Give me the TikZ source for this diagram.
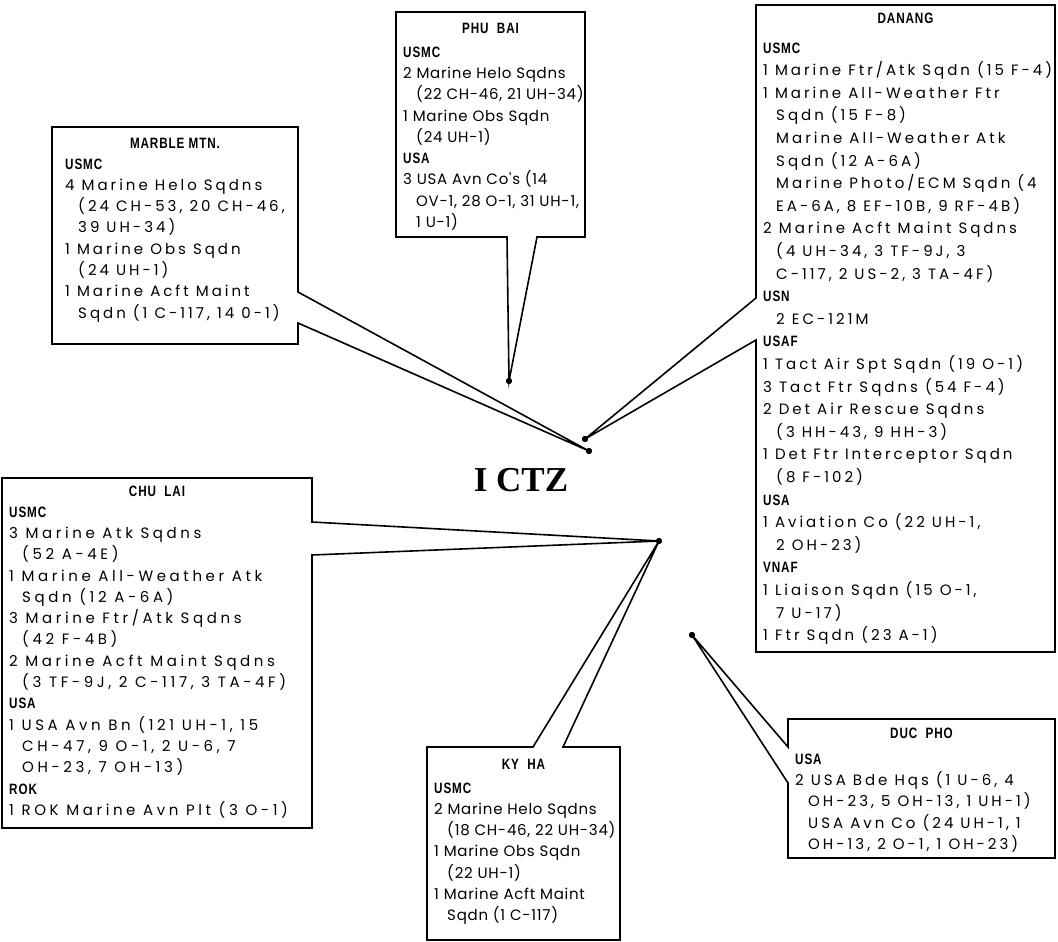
\documentclass[tikz,border=0pt]{standalone}
\usepackage{fontspec}
\setmainfont{Poppins}[LetterSpace=20]
\newfontfamily\tightfont{Poppins}[LetterSpace=5]
\newfontfamily\widefont{Poppins}[LetterSpace=24]
\newfontfamily\headfont{Liberation Sans}[FakeStretch=0.78,LetterSpace=6]
\newfontfamily\ctzfont{Liberation Serif}
\usetikzlibrary{positioning}
\newlength\contwd
\setlength\contwd{13pt}
\newcommand\svc[1]{{\headfont\bfseries #1}}
\newcommand\cont{\hspace*{\contwd}}
\tikzset{
  frame/.style={anchor=north west,inner sep=0pt,outer sep=0pt},
  basename/.style={inner sep=0pt,font=\fontsize{15}{18}\selectfont\headfont\bfseries},
  roster/.style={anchor=north west,align=left,inner sep=0pt,xshift=7pt,yshift=-10pt},
  tight/.style={font=\fontsize{15}{21.3}\selectfont\tightfont},
  wide/.style={font=\fontsize{15}{21.3}\selectfont\widefont},
  rim/.style={draw=black,line width=1.6pt,line join=miter},
  tipdot/.style={circle,fill=black,inner sep=0pt,minimum size=6pt}
}
\begin{document}
\begin{tikzpicture}[x=1pt,y=-1pt,font=\fontsize{15}{21.3}\selectfont]
  \useasboundingbox (0,0) rectangle (1058,942);
  % frames of the six air bases
  \node[frame,minimum width=246pt,minimum height=217pt] (marble) at (52,127) {};
  \node[frame,minimum width=189pt,minimum height=225pt] (phubai) at (396,12) {};
  \node[frame,minimum width=299pt,minimum height=647pt] (danang) at (756,5) {};
  \node[frame,minimum width=310pt,minimum height=350pt] (chulai) at (2,478) {};
  \node[frame,minimum width=193pt,minimum height=193pt] (kyha) at (427,747) {};
  \node[frame,minimum width=267pt,minimum height=139pt] (ducpho) at (788,719) {};
  % pointer tips
  \node[tipdot] (mmtip) at (589,451) {};
  \node[tipdot] (pbtip) at (509,381) {};
  \node[tipdot] (dntip) at (585,439) {};
  \node[tipdot] (cltip) at (659,541) {};
  \node[tipdot] (dptip) at (692,635) {};
  \node[font={\ctzfont\bfseries\fontsize{35}{40}\selectfont}] (ictz) at (521,480) {I CTZ};
  % base names
  \node[basename] (marblehead) at ([yshift=-16pt]marble.north) {MARBLE MTN.};
  \node[basename] (phubaihead) at ([yshift=-16pt]phubai.north) {PHU\ \ BAI};
  \node[basename] (dananghead) at ([yshift=-13pt]danang.north) {DANANG};
  \node[basename] (chulaihead) at ([yshift=-13pt]chulai.north) {CHU\ \ LAI};
  \node[basename] (kyhahead) at ([yshift=-17pt]kyha.north) {KY\ \ HA};
  \node[basename] (ducphohead) at ([yshift=-14pt]ducpho.north) {DUC\ \ PHO};
  % units
  \node[roster,xshift=6pt] (marblelist) at (marble.west |- marblehead.south) {\setlength\contwd{21pt}\svc{USMC}\\
    4 Marine Helo Sqdns\\ \cont(24 CH-53, 20 CH-46,\\ \cont39 UH-34)\\
    1 Marine Obs Sqdn\\ \cont(24 UH-1)\\
    1 Marine Acft Maint\\ \cont Sqdn (1 C-117, 14 0-1)};
  \node[roster,tight,yshift=-3pt] (phubailist) at (phubai.west |- phubaihead.south) {\svc{USMC}\\
    2 Marine Helo Sqdns\\ \cont(22 CH-46, 21 UH-34)\\
    1 Marine Obs Sqdn\\ \cont(24 UH-1)\\
    \svc{USA}\\
    3 USA Avn Co's (14\\ \cont OV-1, 28 O-1, 31 UH-1,\\ \cont1 U-1)};
  \node[roster,yshift=-9pt,font=\fontsize{15}{22.6}\selectfont] (dananglist) at (danang.west |- dananghead.south) {\svc{USMC}\\
    1 Marine Ftr/Atk Sqdn (15 F-4)\\
    1 Marine All-Weather Ftr\\ \cont Sqdn (15 F-8)\\
    \cont Marine All-Weather Atk\\ \cont Sqdn (12 A-6A)\\
    \cont Marine Photo/ECM Sqdn (4\\ \cont EA-6A, 8 EF-10B, 9 RF-4B)\\
    2 Marine Acft Maint Sqdns\\ \cont(4 UH-34, 3 TF-9J, 3\\ \cont C-117, 2 US-2, 3 TA-4F)\\
    \svc{USN}\\ \cont2 EC-121M\\
    \svc{USAF}\\
    1 Tact Air Spt Sqdn (19 O-1)\\
    3 Tact Ftr Sqdns (54 F-4)\\
    2 Det Air Rescue Sqdns\\ \cont(3 HH-43, 9 HH-3)\\
    1 Det Ftr Interceptor Sqdn\\ \cont(8 F-102)\\
    \svc{USA}\\
    1 Aviation Co (22 UH-1,\\ \cont2 OH-23)\\
    \svc{VNAF}\\
    1 Liaison Sqdn (15 O-1,\\ \cont7 U-17)\\
    1 Ftr Sqdn (23 A-1)};
  \node[roster,wide] (chulailist) at (chulai.west |- chulaihead.south) {\svc{USMC}\\
    3 Marine Atk Sqdns\\ \cont(52 A-4E)\\
    1 Marine All-Weather Atk\\ \cont Sqdn (12 A-6A)\\
    3 Marine Ftr/Atk Sqdns\\ \cont(42 F-4B)\\
    2 Marine Acft Maint Sqdns\\ \cont(3 TF-9J, 2 C-117, 3 TA-4F)\\
    \svc{USA}\\
    1 USA Avn Bn (121 UH-1, 15\\ \cont CH-47, 9 O-1, 2 U-6, 7\\ \cont OH-23, 7 OH-13)\\
    \svc{ROK}\\
    1 ROK Marine Avn Plt (3 O-1)};
  \node[roster,tight,yshift=-3pt] (kyhalist) at (kyha.west |- kyhahead.south) {\svc{USMC}\\
    2 Marine Helo Sqdns\\ \cont(18 CH-46, 22 UH-34)\\
    1 Marine Obs Sqdn\\ \cont(22 UH-1)\\
    1 Marine Acft Maint\\ \cont Sqdn (1 C-117)};
  \node[roster,yshift=-5pt] (ducpholist) at (ducpho.west |- ducphohead.south) {\svc{USA}\\
    2 USA Bde Hqs (1 U-6, 4\\ \cont OH-23, 5 OH-13, 1 UH-1)\\
    \cont USA Avn Co (24 UH-1, 1\\ \cont OH-13, 2 O-1, 1 OH-23)};
  % outlines with their pointers
  \draw[rim] ([yshift=52pt]marble.south east) -- (marble.north east) -- (marble.north west)
    -- (marble.south west) -- (marble.south east) -- ([yshift=21pt]marble.south east) -- (mmtip.center) -- cycle;
  \draw[rim] ([xshift=141pt]phubai.south west) -- (phubai.south east) -- (phubai.north east)
    -- (phubai.north west) -- (phubai.south west) -- ([xshift=111pt]phubai.south west) -- (pbtip.center) -- cycle;
  \draw[rim] ([yshift=-293pt]danang.north west) -- (danang.north west) -- (danang.north east)
    -- (danang.south east) -- (danang.south west) -- ([yshift=-335pt]danang.north west) -- (dntip.center) -- cycle;
  \draw[rim] ([yshift=-44pt]chulai.north east) -- (chulai.north east) -- (chulai.north west)
    -- (chulai.south west) -- (chulai.south east) -- ([yshift=-77pt]chulai.north east) -- (cltip.center) -- cycle;
  \draw[rim] ([xshift=106pt]kyha.north west) -- (kyha.north west) -- (kyha.south west)
    -- (kyha.south east) -- (kyha.north east) -- ([xshift=136pt]kyha.north west) -- (cltip.center) -- cycle;
  \draw[rim] ([yshift=-28pt]ducpho.north west) -- (ducpho.north west) -- (ducpho.north east)
    -- (ducpho.south east) -- (ducpho.south west) -- ([yshift=-64pt]ducpho.north west) -- (dptip.center) -- cycle;
  \foreach \t in {mmtip,pbtip,dntip,cltip,dptip} \node[tipdot] at (\t) {};
\end{tikzpicture}
\end{document}
